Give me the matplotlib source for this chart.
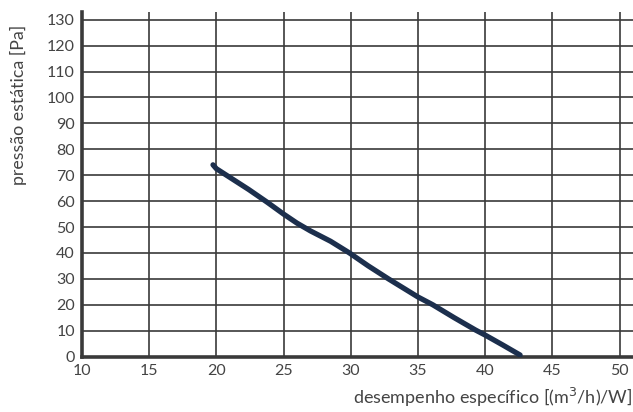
import matplotlib.pyplot as plt
import numpy as np

# curve
desempenho = [19.75, 20.0, 20.9, 22.4, 23.8, 25.0, 26.0, 27.0, 28.5, 29.9, 31.3, 32.8, 35.0, 36.1, 37.7, 39.3, 40.0, 41.3, 42.6]
pressao = [74.0, 72.5, 69.5, 64.5, 59.5, 55.0, 51.5, 48.5, 44.5, 40.0, 35.0, 30.0, 23.0, 20.0, 15.0, 10.2, 8.3, 4.5, 0.6]

xticks = [10, 15, 20, 25, 30, 35, 40, 45, 50]
yticks = list(range(0, 131, 10))

plt.rcParams['font.family'] = ['Lato', 'DejaVu Sans']
grid_col = '#3a3a3a'
text_col = '#444444'

fig = plt.figure(figsize=(6.33, 4.12), dpi=100)
ax = fig.add_axes([0.1295, 0.1345, 0.8705, 0.8365])

ax.plot(desempenho, pressao, color='#1c2f4d', linewidth=3.8,
        solid_capstyle='round', solid_joinstyle='round', zorder=3)

ax.set_xlim(10, 51)
ax.set_ylim(0, 133)
ax.set_xticks(xticks)
ax.set_yticks(yticks)
ax.grid(True, color=grid_col, linewidth=1.2)
ax.tick_params(length=0, labelsize=11.5, colors=text_col, pad=5)

for s in ['top', 'right']:
    ax.spines[s].set_visible(False)
for s in ['left', 'bottom']:
    ax.spines[s].set_color(grid_col)
    ax.spines[s].set_linewidth(2.6)

fig.text(0.999, 0.035, 'desempenho específico [(m$^3$/h)/W]', ha='right', va='center',
         fontsize=13, color=text_col)
fig.text(0.03, 0.745, 'pressão estática [Pa]', ha='center', va='center', rotation=90,
         fontsize=12.8, color=text_col)

fig.savefig('out.png', dpi=100)
